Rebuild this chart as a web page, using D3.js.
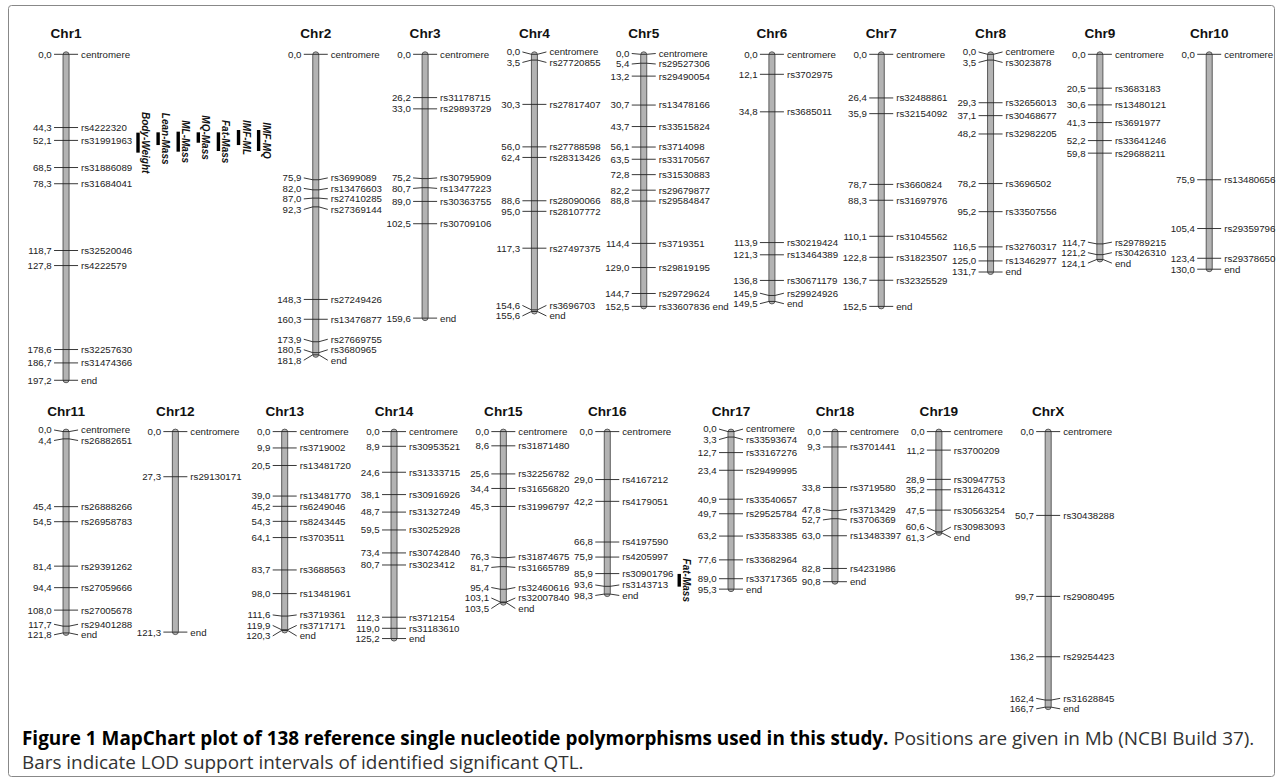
<!DOCTYPE html>
<html>
<head>
<meta charset="utf-8">
<script src="https://cdn.jsdelivr.net/npm/d3@7"></script>
<style>
body{margin:0;background:#fff;}
svg text{font-family:"Liberation Sans",Arial,Helvetica,sans-serif;}
</style>
</head>
<body>
<svg id="chart" width="1282" height="783"></svg>
<script>
var chroms = ["Chr1","Chr2","Chr3","Chr4","Chr5","Chr6","Chr7","Chr8","Chr9","Chr10",
              "Chr11","Chr12","Chr13","Chr14","Chr15","Chr16","Chr17","Chr18","Chr19","ChrX"];
var rowOf = [0,0,0,0,0,0,0,0,0,0,1,1,1,1,1,1,1,1,1,1];

var chr1Pos = [0.0,44.3,52.1,68.5,78.3,118.7,127.8,178.6,186.7,197.2];
var chr1Snp = ["centromere","rs4222320","rs31991963","rs31886089","rs31684041","rs32520046","rs4222579","rs32257630","rs31474366","end"];
var chr2Pos = [0.0,75.9,82.0,87.0,92.3,148.3,160.3,173.9,180.5,181.8];
var chr2Snp = ["centromere","rs3699089","rs13476603","rs27410285","rs27369144","rs27249426","rs13476877","rs27669755","rs3680965","end"];
var chr3Pos = [0.0,26.2,33.0,75.2,80.7,89.0,102.5,159.6];
var chr3Snp = ["centromere","rs31178715","rs29893729","rs30795909","rs13477223","rs30363755","rs30709106","end"];
var chr4Pos = [0.0,3.5,30.3,56.0,62.4,88.6,95.0,117.3,154.6,155.6];
var chr4Snp = ["centromere","rs27720855","rs27817407","rs27788598","rs28313426","rs28090066","rs28107772","rs27497375","rs3696703","end"];
var chr5Pos = [0.0,5.4,13.2,30.7,43.7,56.1,63.5,72.8,82.2,88.8,114.4,129.0,144.7,152.5];
var chr5Snp = ["centromere","rs29527306","rs29490054","rs13478166","rs33515824","rs3714098","rs33170567","rs31530883","rs29679877","rs29584847","rs3719351","rs29819195","rs29729624","rs33607836 end"];
var chr6Pos = [0.0,12.1,34.8,113.9,121.3,136.8,145.9,149.5];
var chr6Snp = ["centromere","rs3702975","rs3685011","rs30219424","rs13464389","rs30671179","rs29924926","end"];
var chr7Pos = [0.0,26.4,35.9,78.7,88.3,110.1,122.8,136.7,152.5];
var chr7Snp = ["centromere","rs32488861","rs32154092","rs3660824","rs31697976","rs31045562","rs31823507","rs32325529","end"];
var chr8Pos = [0.0,3.5,29.3,37.1,48.2,78.2,95.2,116.5,125.0,131.7];
var chr8Snp = ["centromere","rs3023878","rs32656013","rs30468677","rs32982205","rs3696502","rs33507556","rs32760317","rs13462977","end"];
var chr9Pos = [0.0,20.5,30.6,41.3,52.2,59.8,114.7,121.2,124.1];
var chr9Snp = ["centromere","rs3683183","rs13480121","rs3691977","rs33641246","rs29688211","rs29789215","rs30426310","end"];
var chr10Pos = [0.0,75.9,105.4,123.4,130.0];
var chr10Snp = ["centromere","rs13480656","rs29359796","rs29378650","end"];
var chr11Pos = [0.0,4.4,45.4,54.5,81.4,94.4,108.0,117.7,121.8];
var chr11Snp = ["centromere","rs26882651","rs26888266","rs26958783","rs29391262","rs27059666","rs27005678","rs29401288","end"];
var chr12Pos = [0.0,27.3,121.3];
var chr12Snp = ["centromere","rs29130171","end"];
var chr13Pos = [0.0,9.9,20.5,39.0,45.2,54.3,64.1,83.7,98.0,111.6,119.9,120.3];
var chr13Snp = ["centromere","rs3719002","rs13481720","rs13481770","rs6249046","rs8243445","rs3703511","rs3688563","rs13481961","rs3719361","rs3717171","end"];
var chr14Pos = [0.0,8.9,24.6,38.1,48.7,59.5,73.4,80.7,112.3,119.0,125.2];
var chr14Snp = ["centromere","rs30953521","rs31333715","rs30916926","rs31327249","rs30252928","rs30742840","rs3023412","rs3712154","rs31183610","end"];
var chr15Pos = [0.0,8.6,25.6,34.4,45.3,76.3,81.7,95.4,103.1,103.5];
var chr15Snp = ["centromere","rs31871480","rs32256782","rs31656820","rs31996797","rs31874675","rs31665789","rs32460616","rs32007840","end"];
var chr16Pos = [0.0,29.0,42.2,66.8,75.9,85.9,93.6,98.3];
var chr16Snp = ["centromere","rs4167212","rs4179051","rs4197590","rs4205997","rs30901796","rs3143713","end"];
var chr17Pos = [0.0,3.3,12.7,23.4,40.9,49.7,63.2,77.6,89.0,95.3];
var chr17Snp = ["centromere","rs33593674","rs33167276","rs29499995","rs33540657","rs29525784","rs33583385","rs33682964","rs33717365","end"];
var chr18Pos = [0.0,9.3,33.8,47.8,52.7,63.0,82.8,90.8];
var chr18Snp = ["centromere","rs3701441","rs3719580","rs3713429","rs3706369","rs13483397","rs4231986","end"];
var chr19Pos = [0.0,11.2,28.9,35.2,47.5,60.6,61.3];
var chr19Snp = ["centromere","rs3700209","rs30947753","rs31264312","rs30563254","rs30983093","end"];
var chrXPos = [0.0,50.7,99.7,136.2,162.4,166.7];
var chrXSnp = ["centromere","rs30438288","rs29080495","rs29254423","rs31628845","end"];

var qtlChrom = ["Chr1","Chr1","Chr1","Chr1","Chr1","Chr1","Chr1","Chr16"];
var qtlTrait = ["Body-Weight","Lean-Mass","ML-Mass","MQ-Mass","Fat-Mass","IMF-ML","IMF-MQ","Fat-Mass"];
var qtlFrom = [47.4,47.2,46.8,47.2,47.2,45.8,45.8,86.1];
var qtlTo = [59.5,54.9,58.9,53.5,58.5,54.9,58.5,93.8];

var posList = [chr1Pos,chr2Pos,chr3Pos,chr4Pos,chr5Pos,chr6Pos,chr7Pos,chr8Pos,chr9Pos,chr10Pos,
               chr11Pos,chr12Pos,chr13Pos,chr14Pos,chr15Pos,chr16Pos,chr17Pos,chr18Pos,chr19Pos,chrXPos];
var snpList = [chr1Snp,chr2Snp,chr3Snp,chr4Snp,chr5Snp,chr6Snp,chr7Snp,chr8Snp,chr9Snp,chr10Snp,
               chr11Snp,chr12Snp,chr13Snp,chr14Snp,chr15Snp,chr16Snp,chr17Snp,chr18Snp,chr19Snp,chrXSnp];

var fs = 9.7, minGap = 10.5, pxPerMb = 1.653;
var rowY0 = [54.3, 431.6];
var fmt = function (v) { return v.toFixed(1).replace(".", ","); };

var svg = d3.select("#chart");

// frame
svg.append("rect").attr("x", 8.5).attr("y", 5.5).attr("width", 1266).attr("height", 771)
    .attr("fill", "none").attr("stroke", "#888").attr("stroke-width", 1).attr("rx", 3);

var meas = svg.append("text").style("font-size", fs + "px");
function tw(s) { meas.text(s); return meas.node().getComputedTextLength(); }

// push overlapping labels apart (stacked blocks)
function spread(ys, gap) {
    var bl = [];
    ys.forEach(function (y) {
        var b = {n: 1, s: y, top: y};
        while (bl.length) {
            var a = bl[bl.length - 1];
            if (a.top + a.n * gap <= b.top) break;
            bl.pop();
            var n = a.n + b.n, s = a.s + b.s - b.n * a.n * gap;
            b = {n: n, s: s, top: s / n};
        }
        bl.push(b);
    });
    var out = [];
    bl.forEach(function (b) { for (var j = 0; j < b.n; j++) out.push(b.top + j * gap); });
    return out;
}

var yScale = rowY0.map(function (y0) {
    return d3.scaleLinear().domain([0, 100]).range([y0, y0 + 100 * pxPerMb]);
});

var leftOff = 14.3, rightOff = 15, tick = 12, sep = 4.6, margin = 27.5;
var cx = [], qtlX = [], prevEnd = null, prevRow = -1;
chroms.forEach(function (c, i) {
    var r = rowOf[i];
    var lw = d3.max(posList[i], function (v) { return tw(fmt(v)); });
    var rw = d3.max(snpList[i], function (s) { return tw(s); });
    var x = (r !== prevRow) ? margin + lw + leftOff : prevEnd + sep + lw + leftOff;
    cx.push(x);
    prevRow = r;
    prevEnd = x + rightOff + rw;
    var k = 0;
    qtlChrom.forEach(function (q, j) {
        if (q === c) { qtlX[j] = prevEnd + 5.8 + k * 20.1; k++; }
    });
    if (k) prevEnd = prevEnd + 5.8 + (k - 1) * 20.1 + 14;
});
meas.remove();

chroms.forEach(function (c, i) {
    var y = yScale[rowOf[i]], x = cx[i];
    var pos = posList[i], snp = snpList[i];
    var len = d3.max(pos);
    var g = svg.append("g");

    g.append("text").attr("x", x).attr("y", y(0) - 16)
        .attr("text-anchor", "middle").style("font-size", "13.6px").style("font-weight", "bold")
        .attr("fill", "#111").text(c);

    g.append("rect").attr("x", x - 3).attr("y", y(0) - 2.5)
        .attr("width", 6).attr("height", y(len) - y(0) + 5).attr("rx", 3)
        .attr("fill", "#b3b3b3").attr("stroke", "#5a5a5a").attr("stroke-width", 1);

    var ly = spread(pos.map(function (v) { return y(v); }), minGap);

    g.selectAll("path.tk").data(pos).enter().append("path").attr("class", "tk")
        .attr("d", function (v, j) {
            var ty = y(v), l = ly[j];
            if (Math.abs(l - ty) < 0.4) return "M" + (x - tick) + "," + ty + "H" + (x + tick);
            return "M" + (x - tick) + "," + l + "L" + (x - 3) + "," + ty + "L" + (x + 3) + "," + ty +
                "L" + (x + tick) + "," + l;
        })
        .attr("fill", "none").attr("stroke", "#222").attr("stroke-width", 0.9);

    g.selectAll("text.pl").data(pos).enter().append("text").attr("class", "pl")
        .attr("x", x - leftOff).attr("y", function (v, j) { return ly[j]; })
        .attr("dy", "0.35em").attr("text-anchor", "end").style("font-size", fs + "px")
        .attr("fill", "#222").text(fmt);

    g.selectAll("text.sn").data(snp).enter().append("text").attr("class", "sn")
        .attr("x", x + rightOff).attr("y", function (s, j) { return ly[j]; })
        .attr("dy", "0.35em").style("font-size", fs + "px")
        .attr("fill", "#222").text(function (s) { return s; });
});

// QTL support intervals
qtlTrait.forEach(function (t, j) {
    var i = chroms.indexOf(qtlChrom[j]);
    var y = yScale[rowOf[i]], x = qtlX[j];
    svg.append("rect").attr("x", x - 1.7).attr("y", y(qtlFrom[j]))
        .attr("width", 3.4).attr("height", y(qtlTo[j]) - y(qtlFrom[j])).attr("fill", "#000");
    var mid = (y(qtlFrom[j]) + y(qtlTo[j])) / 2;
    svg.append("text").attr("transform", "translate(" + (x + 4) + "," + mid + ") rotate(90)")
        .attr("text-anchor", "middle").style("font-size", "10px").style("font-weight", "bold")
        .style("font-style", "italic").attr("fill", "#111").text(t);
});

// caption
var cap = svg.append("text").attr("x", 22).attr("y", 744.5)
    .style("font-family", "'Open Sans','Noto Sans',sans-serif").style("font-size", "18.9px").attr("fill", "#333");
cap.append("tspan").style("font-weight", "bold").attr("fill", "#000")
    .text("Figure 1 MapChart plot of 138 reference single nucleotide polymorphisms used in this study.");
cap.append("tspan").text(" Positions are given in Mb (NCBI Build 37).");
svg.append("text").attr("x", 22).attr("y", 769)
    .style("font-family", "'Open Sans','Noto Sans',sans-serif").style("font-size", "18.9px").attr("fill", "#333")
    .text("Bars indicate LOD support intervals of identified significant QTL.");
</script>
</body>
</html>
